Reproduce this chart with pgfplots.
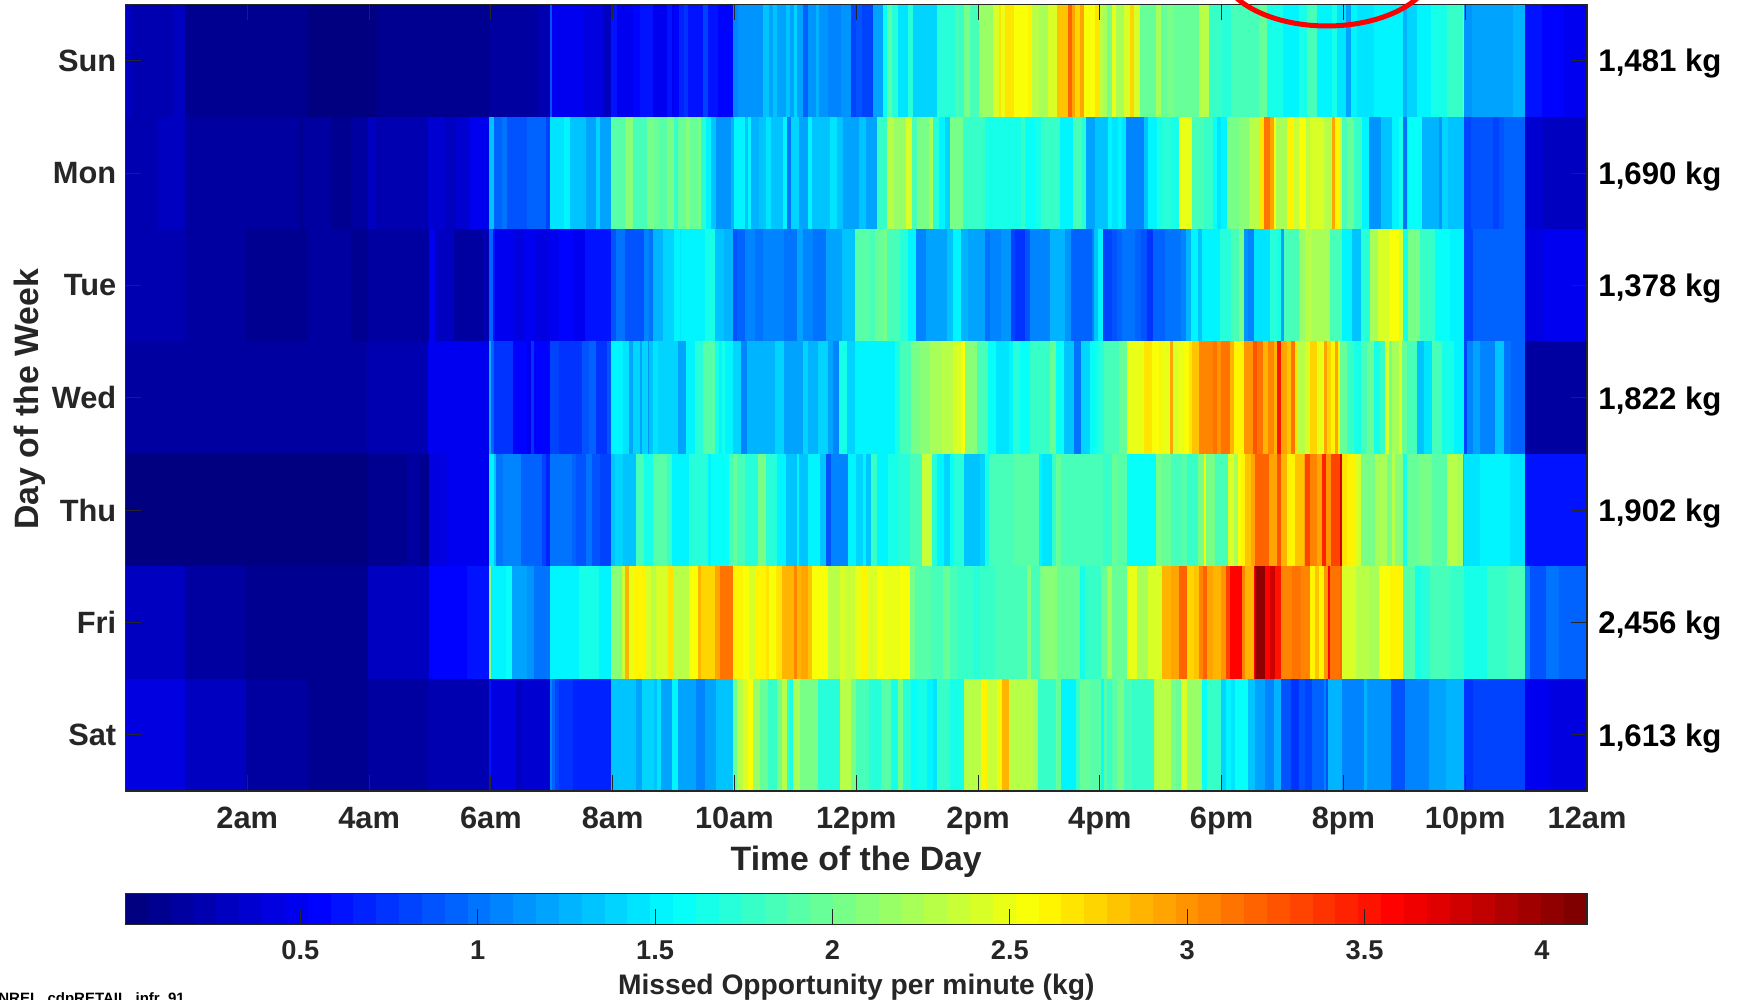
\documentclass[border=0pt]{standalone}
\usepackage{fontspec}
\setmainfont{Liberation Sans}
\usepackage{pgfplots}
\pgfplotsset{compat=1.18}
\pgfplotsset{
  colormap={jetbase}{rgb255(0cm)=(0,0,128) rgb255(1cm)=(0,0,255) rgb255(3cm)=(0,255,255) rgb255(5cm)=(255,255,0) rgb255(7cm)=(255,0,0) rgb255(8cm)=(128,0,0)},
  colormap={jet64}{samples of colormap=(64 of jetbase)},
  dayrow/.style={mesh, shader=flat corner, no marks, forget plot, line width=56.3pt, line cap=butt, point meta=explicit},
}
\definecolor{ink}{gray}{0.15}
\newcommand{\sz}[1]{\fontsize{#1}{#1}\selectfont\bfseries}
\begin{document}
\begin{tikzpicture}
\useasboundingbox (0,0) rectangle (870pt,500pt);
\clip (0,0) rectangle (870pt,500pt);
\begin{axis}[
  at={(62.75pt,104.5pt)}, anchor=south west, scale only axis,
  width=730.75pt, height=393.25pt,
  xmin=0, xmax=1440, ymin=0.5, ymax=7.5, y dir=reverse,
  axis on top, clip mode=individual,
  axis line style={ink, line width=0.6pt},
  tick style={ink, line width=0.5pt},
  tick align=inside, major tick length=7.8pt,
  xtick={120,240,360,480,600,720,840,960,1080,1200,1320,1440},
  xticklabels={2am,4am,6am,8am,10am,12pm,2pm,4pm,6pm,8pm,10pm,12am},
  ytick={1,2,3,4,5,6,7},
  yticklabels={Sun,Mon,Tue,Wed,Thu,Fri,Sat},
  xticklabel pos=bottom, yticklabel pos=left,
  xtick pos=both, ytick pos=both,
  xticklabel style={font=\sz{15.4}, text=ink, anchor=base, yshift=-18.9pt},
  yticklabel style={font=\sz{15.4}, text=ink, xshift=-1.1pt},
  xlabel={Time of the Day}, ylabel={Day of the Week},
  x label style={font=\sz{16.9}, text=ink, at={(axis description cs:0.5,-0.0905)}, anchor=center},
  y label style={font=\sz{16.9}, text=ink, at={(axis description cs:-0.0654,0.498)}, anchor=center},
  colormap name=jet64, colormap access=piecewise constant,
  point meta min=0.007, point meta max=4.127,
  colorbar horizontal, colorbar sampled,
  colorbar style={
    samples=65,
    at={(0,-0.16999)}, anchor=south west,
    scale only axis, width=730.75pt, height=15.7pt,
    axis on top,
    axis line style={ink, line width=0.6pt},
    tick style={ink, line width=0.5pt},
    tick align=inside, major tick length=7.85pt,
    xtick={0.5,1,1.5,2,2.5,3,3.5,4},
    xticklabels={0.5,1,1.5,2,2.5,3,3.5,4},
    xticklabel pos=bottom, xtick pos=bottom, ytick=\empty,
    xticklabel style={font=\sz{13.6}, text=ink, anchor=base, yshift=-17.4pt},
    xlabel={Missed Opportunity per minute (kg)},
    x label style={font=\sz{14.1}, text=ink, at={(axis description cs:0.5,-1.99)}, anchor=center},
  },
]
% Sun
\addplot[dayrow] table[row sep=crcr, x index=0, y expr=1, meta index=1]{
0 .3\\5 .22\\47 .3\\59 .1\\179 .03\\248 .1\\293 .08\\298 .11\\358 .16\\406 .24\\418 .85\\420 .48\\452 .42\\470 .3\\
478 .6\\484 .5\\500.5 .58\\506.5 .62\\520 .52\\534 .62\\538 .5\\540 .58\\545 .68\\550 .75\\554 .65\\569 .82\\574 .6\\584 .56\\
598.5 1.05\\603.5 1.12\\628 1.3\\634.5 1.2\\638 1.33\\642 1.17\\650.5 1.3\\654.5 1.2\\658.5 1.4\\662 1.17\\668 .92\\672 1.12\\680 1.27\\683.5 1.15\\692 1.08\\705 1.15\\715 .8\\720 .9\\726 .82\\736 1.2\\746.5 1.6\\750 1.9\\755 1.7\\761 1.48\\771 1.7\\776 1.42\\800 1.72\\817 1.83\\821 1.75\\826 2.02\\832 1.87\\841 2.15\\855 2.4\\861 2.65\\863 2.5\\867 2.65\\875 2.55\\889 2.62\\893 2.3\\900 2.22\\909 2.42\\918 2.8\\928.5 3.17\\932.5 2.93\\936 2.75\\940 2.93\\944 2.58\\955 2.7\\
960 2.3\\963.5 2.2\\967.5 2.05\\972 2.5\\976 2.2\\984 2.4\\990 2.72\\993.5 2.4\\999.5 1.97\\1015 2.2\\1020 1.95\\1026.5 2.05\\1033 1.95\\1041 1.98\\1057.5 2.3\\1067.5 1.78\\1080.5 1.7\\1089 1.85\\1117 1.95\\1125 1.65\\1140 1.52\\1156 1.63\\1164 1.82\\1174 1.52\\1189 1.65\\1194 1.45\\1203 1.2\\1207 1.5\\1213.5 1.43\\1230 1.55\\1259 1.28\\1262.5 1.4\\1272.5 1.52\\1286 1.65\\1302 1.8\\1318 1.95\\1319 1.12\\1326.5 1.17\\1339 1.2\\1367.5 1.25\\1379 .62\\1395.5 .56\\1417 .5\\1440 .5\\
};
% Mon
\addplot[dayrow] table[row sep=crcr, x index=0, y expr=2, meta index=1]{
0 .25\\32 .32\\59 .2\\172 .12\\175 .2\\203 .12\\222 .2\\239 .3\\247 .23\\298.5 .38\\315 .3\\326 .38\\339.5 .5\\358 1.33\\363 .95\\370.5 1.0\\376 .9\\396 .92\\414 .82\\418 1.43\\432 1.5\\438 1.35\\454 1.2\\464 1.42\\468 1.2\\
478 1.9\\492.5 2.1\\500.5 1.82\\513.5 2.05\\521 1.97\\526 1.9\\534 2.05\\540 1.75\\544 1.95\\552 2.1\\556 1.95\\564 2.05\\567 1.7\\572 1.55\\577 1.3\\582 1.12\\597 1.25\\600 1.5\\610 1.33\\613 1.5\\616.5 1.28\\624 1.33\\631 1.45\\636 1.35\\648 1.5\\652 1.0\\656 1.37\\663.5 1.2\\672.5 1.5\\676 1.3\\694.5 1.45\\701 1.3\\707 1.2\\723 1.3\\730 1.2\\740 1.78\\750 2.27\\757 2.15\\769 2.45\\775 1.87\\780 2.05\\792 2.2\\796 1.7\\801.5 1.55\\807.5 1.42\\812 2.02\\825 1.75\\837 1.8\\847 1.65\\882 1.75\\886 1.6\\891 1.58\\896 1.62\\902.5 1.78\\920.5 1.55\\934 1.82\\942 1.7\\946 1.2\\
955 1.3\\959 1.35\\968 1.55\\972 1.43\\978 1.55\\982 1.43\\985.5 1.05\\1003.5 1.3\\1007.5 1.55\\1012 1.5\\1016.5 1.65\\1021.5 1.72\\1030 1.62\\1038 2.47\\1051 1.85\\1062.5 1.75\\1071 1.6\\1075 1.45\\1079.5 1.52\\1085.5 2.05\\1097 2.13\\1107 2.27\\1116.5 2.68\\1121.5 3.15\\1128 2.95\\1131.5 2.58\\1134 2.2\\1144.5 2.63\\1151 2.35\\1156 2.52\\1163 2.27\\1167.5 2.4\\1180.5 2.3\\1189 2.93\\1192 2.63\\1197 2.35\\1199 1.85\\1203.5 1.95\\1210 1.75\\1218 1.55\\1225.5 1.15\\1237 1.33\\1248 1.55\\1254.5 1.65\\1259 1.0\\1262.5 1.5\\1264 1.58\\1277 1.25\\1294 1.15\\1297 1.37\\1303.5 1.35\\1313.5 1.3\\1319 .8\\1325.5 .87\\1339 .9\\1347 .8\\1353 .85\\1358 .97\\1379 .35\\1396.5 .27\\1440 .27\\
};
% Tue
\addplot[dayrow] table[row sep=crcr, x index=0, y expr=3, meta index=1]{
0 .26\\59 .18\\119 .1\\179 .2\\222 .1\\239 .18\\299.5 .47\\305 .27\\324 .15\\352 .22\\358 .95\\362 .62\\364 .5\\376.5 .46\\383 .4\\392.5 .5\\403 .45\\418 .5\\427 .57\\440.5 .52\\452.5 .6\\464 .62\\470 .6\\
478 .87\\483.5 .98\\492.5 .9\\510.5 1.07\\516 1.0\\520 1.23\\530 1.37\\540 1.55\\546 1.45\\547.5 1.55\\570.5 1.68\\575 1.62\\580.5 1.3\\590 1.25\\598.5 .87\\602.5 .95\\610 1.05\\620 1.0\\628 1.08\\648.5 1.0\\662 1.17\\668 1.08\\677 1.0\\690.5 1.17\\706 1.3\\718.5 1.9\\734 1.82\\738 1.95\\746 2.03\\750 1.82\\763 1.72\\771 1.5\\779 1.05\\788.5 1.2\\809 1.35\\815.5 1.55\\823 1.28\\830 1.17\\846.5 1.0\\851.5 1.05\\863 1.12\\872 .8\\876 .75\\886 .85\\891 1.08\\911 1.25\\925.5 1.15\\932 .97\\952 1.1\\
954 1.3\\958 1.5\\963 .82\\972 .87\\977 .95\\982 1.0\\995 .93\\1001 .85\\1006 .72\\1012 .97\\1024 1.02\\1039.5 1.1\\1044.5 1.28\\1049.5 1.55\\1056.5 1.35\\1061 1.55\\1078 1.7\\1089 1.87\\1097 2.05\\1102 1.15\\1106 1.05\\1112 1.43\\1128 1.7\\1136 1.65\\1138 1.2\\1141 1.82\\1156 2.15\\1162.5 2.3\\1169 2.22\\1187 1.87\\1199 1.5\\1208.5 1.3\\1217 1.72\\1226 2.22\\1234 2.42\\1244.5 2.58\\1255 2.45\\1259 1.65\\1264 2.05\\1275 1.75\\1290.5 1.6\\1305 1.52\\1319 .8\\1328 .92\\1364 .97\\1379 .44\\1396.5 .5\\1440 .5\\
};
% Wed
\addplot[dayrow] table[row sep=crcr, x index=0, y expr=4, meta index=1]{
0 .2\\59 .17\\238 .22\\298.5 .47\\358 1.28\\360 .95\\363 .77\\382 .58\\396 .48\\400 .75\\402 .58\\418 .8\\427 .72\\434.5 .77\\450 .88\\457 .95\\464 .75\\467 .72\\474 .9\\
478 1.55\\490 1.45\\496.5 1.2\\500.5 1.4\\506.5 1.2\\508.5 1.37\\514.5 1.15\\516 1.3\\520 1.43\\524.5 1.37\\544 1.22\\552 1.55\\561 1.7\\569 1.88\\580.5 1.62\\584.5 1.55\\588 1.65\\591 1.5\\598.5 1.4\\606 1.05\\612 1.27\\639.5 1.4\\648.5 1.22\\667.5 1.4\\672.5 1.27\\682 1.4\\692 1.22\\697 1.1\\703 1.62\\711 1.42\\718.5 1.55\\736.5 1.5\\758 1.62\\763 1.87\\774 2.03\\782.5 2.12\\792.5 2.2\\804 2.3\\815.5 2.45\\823.5 2.58\\827 2.13\\838.5 1.82\\850 1.6\\858 1.43\\870.5 1.55\\874.5 1.7\\881 1.6\\891 1.78\\897.5 1.75\\911 1.95\\917 1.6\\924.5 1.3\\934.5 1.0\\941 1.4\\950 1.6\\
955 1.65\\959 1.7\\964 1.87\\979 2.0\\987 2.5\\992 2.48\\1003.5 2.65\\1011 2.55\\1018 2.6\\1021.5 2.47\\1029 2.93\\1032 2.4\\1037 2.5\\1043 2.55\\1048 2.7\\1051 2.78\\1057.5 3.08\\1071 3.15\\1075 3.0\\1079 3.15\\1088 2.85\\1092 2.62\\1102 3.0\\1111 3.25\\1115 3.1\\1121 2.85\\1125.5 3.05\\1131.5 2.85\\1135 3.5\\1138.5 2.93\\1144.5 2.8\\1148 3.1\\1152 2.65\\1154 2.3\\1162.5 2.45\\1167.5 2.72\\1174 2.5\\1180.5 2.93\\1184 2.72\\1188 2.6\\1192 2.93\\1194.5 2.6\\1197 1.95\\1203.5 1.75\\1210 1.65\\1217 1.82\\1223 1.95\\1230 1.65\\1236 1.75\\1241 2.4\\1244.5 2.05\\1248 2.2\\1254.5 2.4\\1258 1.95\\1262.5 1.82\\1272.5 1.3\\1279 1.45\\1287 1.82\\1297 1.65\\1308.5 1.55\\1319 .82\\1322 1.05\\1328 1.17\\1335 1.07\\1349.5 1.3\\1358 1.03\\1365 .95\\1379 .16\\1440 .16\\
};
% Thu
\addplot[dayrow] table[row sep=crcr, x index=0, y expr=5, meta index=1]{
0 .05\\59 .02\\239 .13\\277 .2\\290 .1\\299.5 .45\\316.5 .5\\328 .52\\358 1.55\\363 1.3\\365 1.0\\372 1.05\\390 .92\\397 .97\\410 .82\\414 .7\\418 1.0\\439.5 .95\\444 .88\\454 1.0\\460 .9\\468 .83\\
478 1.3\\482 1.42\\490.5 1.3\\502.5 1.82\\510.5 1.65\\520 1.9\\534 1.78\\538 1.52\\555 1.72\\574 1.5\\577 1.6\\594.5 1.82\\598.5 1.97\\602.5 1.85\\610 1.7\\623 2.05\\631 1.7\\642 1.5\\650.5 1.35\\662 1.55\\664 1.32\\672.5 1.55\\677 1.5\\684.5 1.3\\690.5 .9\\695 1.08\\712 1.5\\720 1.37\\727 1.5\\730 1.35\\735 1.8\\740 1.55\\751 1.68\\761 1.72\\773 1.82\\784.5 2.37\\794.5 1.7\\800 1.52\\806 1.42\\812 1.6\\816 1.72\\826 1.3\\842 1.42\\846.5 1.62\\851 1.87\\874 1.92\\900 1.55\\903 1.43\\913 1.78\\917 2.0\\922 1.82\\
963.5 1.78\\972 2.0\\977 1.92\\987 1.6\\1015 2.05\\1020.5 1.97\\1030 1.82\\1041 1.93\\1046 1.78\\1056.5 2.05\\1062.5 2.58\\1065 2.05\\1073 1.87\\1086 2.45\\1092 2.2\\1096 2.55\\1099 2.62\\1103.5 2.8\\1108.5 2.95\\1113 3.17\\1127 2.92\\1134.5 3.28\\1138.5 2.85\\1144.5 2.62\\1152 2.78\\1161 2.93\\1162.5 3.3\\1167.5 3.05\\1174 2.95\\1179 3.42\\1183 3.0\\1188 3.35\\1197 3.75\\1199 2.7\\1203.5 2.6\\1211 2.45\\1217 2.05\\1231.5 2.2\\1243 2.05\\1248 2.3\\1251 2.1\\1259 1.65\\1263 1.97\\1274 2.03\\1287 1.9\\1302 2.3\\1312 2.2\\1318 1.3\\1319 1.45\\1335 1.55\\1353 1.52\\1364 1.45\\1379 .6\\1440 .6\\
};
% Fri
\addplot[dayrow] table[row sep=crcr, x index=0, y expr=6, meta index=1]{
0 .3\\59 .17\\119 .1\\239 .27\\299.5 .58\\336 .65\\358 2.1\\360 1.55\\375 1.58\\381 1.2\\396 1.12\\402 1.02\\418 1.55\\447 1.68\\451 1.62\\467 1.55\\
478 2.1\\489 2.35\\492.5 2.85\\496.5 2.5\\501.5 2.6\\511.5 2.45\\518 2.3\\523 2.4\\534.5 2.65\\540 2.3\\555 2.58\\564.5 2.85\\567 2.75\\580.5 2.93\\586 3.15\\598.5 2.62\\608 2.53\\614 2.45\\621.5 2.6\\631 2.68\\634.5 2.58\\640.5 2.67\\646.5 2.85\\658.5 3.05\\662 2.85\\666 2.93\\672 2.82\\676 2.58\\692.5 2.27\\704 2.45\\708.5 2.37\\718.5 2.5\\724.5 2.63\\732 2.4\\740.5 2.58\\746.5 2.5\\763 2.55\\773 2.05\\777.5 1.9\\789 1.93\\794 1.82\\805.5 1.97\\812 1.85\\819 1.75\\835 1.7\\842 1.78\\856.5 1.85\\888 2.12\\892.5 1.87\\901 2.03\\904 2.1\\918 1.95\\940 1.68\\945 1.8\\
961 1.97\\967.5 2.2\\971.5 2.0\\987 2.5\\997 2.2\\1007 2.45\\1021.5 2.9\\1030 2.93\\1038 3.2\\1045.5 2.75\\1052.5 2.83\\1057.5 3.07\\1062 3.22\\1066 2.92\\1071 2.85\\1079 3.0\\1084 3.35\\1088 3.6\\1100 3.05\\1103.5 2.85\\1112 3.6\\1113 4.05\\1123 3.6\\1127.5 3.75\\1133 3.5\\1138 3.07\\1149.5 3.12\\1158 3.05\\1167.5 2.62\\1171.5 2.8\\1176 2.62\\1180.5 3.0\\1184.5 3.55\\1187 3.15\\1197 3.22\\1199 2.4\\1212 2.32\\1225 2.2\\1235 2.58\\1246 2.6\\1259 1.9\\1271 1.65\\1276 1.7\\1285.5 1.82\\1305 1.75\\1319 1.65\\1341 1.75\\1361 1.85\\1379 1.05\\1384 .88\\1400 1.0\\1412 .93\\1440 .93\\
};
% Sat
\addplot[dayrow] table[row sep=crcr, x index=0, y expr=7, meta index=1]{
0 .45\\59 .27\\119 .18\\180 .1\\239 .17\\298.5 .25\\358 .62\\360 .42\\385 .3\\390 .38\\418 1.07\\420 .92\\423 .8\\427 .72\\440.5 .67\\
478 1.3\\502.5 1.2\\508.5 1.37\\521 1.3\\524 1.43\\528 1.2\\538 1.55\\544 1.2\\562 1.08\\570.5 1.2\\582 1.3\\
598.5 1.95\\602.5 2.3\\608 2.4\\613 2.55\\618 2.15\\625 1.97\\633 1.78\\642 2.05\\647 2.27\\652 1.78\\654.5 1.62\\658 2.25\\665 2.05\\682 1.72\\704 2.3\\715 2.05\\720 1.87\\733 1.7\\744 1.88\\754.5 1.65\\761 2.05\\766 1.7\\774 1.6\\781 1.65\\790 1.55\\796 1.45\\800 1.75\\812 1.62\\826 2.28\\843 2.6\\849 2.38\\859 2.5\\861 2.62\\864 2.88\\870 2.27\\894 2.2\\899 1.78\\917 2.0\\922 1.55\\936.5 1.75\\940 2.0\\950 1.93\\
961 1.6\\964 1.93\\967.5 1.78\\971.5 1.93\\977 2.05\\984 1.82\\992 1.78\\1013.5 2.27\\1030 2.05\\1035.5 1.95\\1039.5 2.4\\1045.5 2.15\\1061 1.6\\1066 1.75\\1079 1.42\\1084 1.52\\1089 1.45\\1093 1.6\\1106 1.3\\1113 1.2\\1123 1.08\\1131.5 1.28\\1138.5 .87\\1148 .75\\1156 .9\\1162.5 .82\\1169 .95\\1180.5 1.07\\1183 .9\\1185 1.25\\1199 1.1\\1220 1.28\\1223 1.13\\1247 .9\\1261 1.08\\1284 1.22\\1297 1.17\\1301 1.25\\1319 .75\\1328 .78\\1355 .83\\1379 .5\\1404 .44\\1440 .44\\
};
\foreach \r/\t in {1/{1,481 kg},2/{1,690 kg},3/{1,378 kg},4/{1,822 kg},5/{1,902 kg},6/{2,456 kg},7/{1,613 kg}}{
  \edef\temp{\noexpand\node[anchor=west, inner sep=0pt, xshift=5.5pt, yshift=-1.65pt, font=\noexpand\sz{15.6}, text=black] at (axis cs:1440,\r) {\unexpanded\expandafter{\t}};}
  \temp
}
\end{axis}
\draw[red, line width=2.5pt] (663.5pt,517pt) ellipse [x radius=53.5pt, y radius=30pt];
\node[anchor=base west, inner sep=0pt, font=\sz{7.5}, text=black] at (-1pt,-2pt) {NREL\_cdpRETAIL\_infr\_91};
\end{tikzpicture}
\end{document}
